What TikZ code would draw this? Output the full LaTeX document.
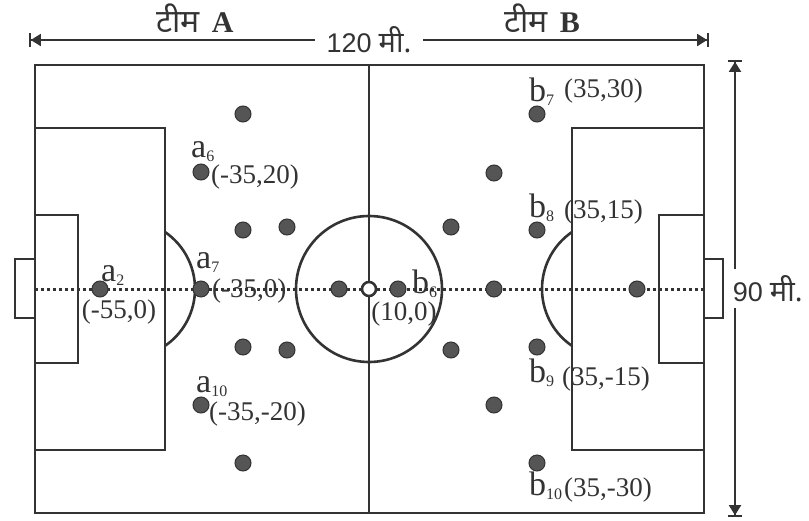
\documentclass[tikz,border=0pt]{standalone}
\usepackage{fontspec}
\setmainfont{Liberation Serif}
\newfontfamily\hindifont[Script=Devanagari]{Noto Sans}
\newfontfamily\arialfont{Liberation Sans}
\usetikzlibrary{arrows.meta,positioning}
\definecolor{FldLine}{HTML}{333333}
\definecolor{FldDot}{HTML}{555555}
\newcommand{\plsub}[1]{\raisebox{-4pt}{\fontsize{16}{16}\selectfont #1}}
\newcommand{\mtr}{\hspace{7pt}{\hindifont\fontsize{29}{29}\selectfont मी.}}

\begin{document}
\begin{tikzpicture}[
    x=1pt, y=-1pt,
    fld/.style={draw=FldLine, line width=2.6pt},
    mid/.style={draw=FldLine, line width=3pt, dash pattern=on 3pt off 3pt},
    player/.style={circle, fill=FldDot, draw=FldLine, line width=1pt, minimum size=16pt, inner sep=0pt},
    spot/.style={circle, fill=white, draw=FldLine, line width=2.6pt, minimum size=14pt, inner sep=0pt},
    pname/.style={font=\fontsize{34}{34}\selectfont, text=FldLine, anchor=base west, inner sep=0pt},
    pcoord/.style={font=\fontsize{27}{27}\selectfont, text=FldLine, anchor=west, inner sep=0pt},
    dim/.style={draw=FldLine, line width=1.8pt, {Bar[width=14pt,line width=1.8pt]Triangle[length=10pt,width=12pt]}-{Triangle[length=10pt,width=12pt]Bar[width=14pt,line width=1.8pt]}},
    dimtxt/.style={font=\arialfont\fontsize{27}{27}\selectfont, text=FldLine, fill=white},
    team/.style={font=\hindifont\fontsize{32}{32}\selectfont, text=FldLine},
  ]
    \useasboundingbox (0,0) rectangle (809,520);

    % ---- मैदान ----
    \draw[fld] (35,65) rectangle (704,513);
    \draw[fld] (369,65) -- (369,513);
    \draw[mid] (35,289) -- (704,289);
    \draw[fld] (369,289) circle[radius=73pt];
    % left half
    \draw[fld] (35,128) rectangle (165,450);
    \draw[fld] (35,215) rectangle (78,363);
    \draw[fld] (15,259) rectangle (35,318);
    \draw[fld] (165,232) arc[start angle=55.6, end angle=-55.6, radius=69pt];
    % right half
    \draw[fld] (572,128) rectangle (704,450);
    \draw[fld] (659,215) rectangle (704,363);
    \draw[fld] (704,259) rectangle (723,318);
    \draw[fld] (572,232) arc[start angle=124.4, end angle=235.6, radius=69pt];

    \node[spot] (cspot) at (369,289) {};

    % ---- टीम A ----
    \node[player] (a1) at (243,114) {};
    \node[player] (a6) at (201,172) {};
    \node[player] (a3) at (243,230) {};
    \node[player] (a4) at (287,227) {};
    \node[player] (a2) at (100,289) {};
    \node[player] (a7) at (201,289) {};
    \node[player] (a5) at (339,289) {};
    \node[player] (a8) at (243,347) {};
    \node[player] (a9) at (287,350) {};
    \node[player] (a10) at (201,405) {};
    \node[player] (a11) at (243,463) {};

    % ---- टीम B ----
    \node[player] (b6) at (398,289) {};
    \node[player] (b4) at (451,227) {};
    \node[player] (b2) at (494,173) {};
    \node[player] (b7) at (537,114) {};
    \node[player] (b8) at (537,230) {};
    \node[player] (b1) at (494,289) {};
    \node[player] (b11) at (637,289) {};
    \node[player] (b5) at (451,350) {};
    \node[player] (b9) at (537,347) {};
    \node[player] (b3) at (494,405) {};
    \node[player] (b10) at (537,463) {};

    % ---- नाम ----
    \node[pname] (a2n) at (101,281) {a\plsub{2}};
    \node[pcoord, anchor=center] (a2c) at (119,312) {(-55,0)};
    \node[pname] (a7n) at (196,268) {a\plsub{7}};
    \node[pcoord] (a7c) at (212,291) {(-35,0)};
    \node[pname] (a6n) at (191,157) {a\plsub{6}};
    \node[pcoord] (a6c) at (211,177) {(-35,20)};
    \node[pname] (a10n) at (196,392) {a\plsub{10}};
    \node[pcoord] (a10c) at (209,414) {(-35,-20)};
    \node[pname] (b7n) at (529,101) {b\plsub{7}};
    \node[pcoord] (b7c) at (564,91) {(35,30)};
    \node[pname] (b8n) at (529,217) {b\plsub{8}};
    \node[pcoord] (b8c) at (564,212) {(35,15)};
    \node[pname] (b9n) at (529,382) {b\plsub{9}};
    \node[pcoord] (b9c) at (562,379) {(35,-15)};
    \node[pname] (b10n) at (529,495) {b\plsub{10}};
    \node[pcoord] (b10c) at (564,490) {(35,-30)};
    \node[pname] (b6n) at (412,293) {b\plsub{6}};
    \node[pcoord, anchor=center] (b6c) at (404,314) {(10,0)};

    % ---- माप ----
    \node[team] (teamA) at (195,18) {टीम\hspace{12pt}{\rmfamily\bfseries\fontsize{30}{30}\selectfont A}};
    \node[team] (teamB) at (542,18) {टीम\hspace{12pt}{\rmfamily\bfseries\fontsize{30}{30}\selectfont B}};
    \coordinate (wl) at (29,40);
    \coordinate (wr) at (709,40);
    \draw[dim] (wl) -- node[dimtxt, inner xsep=12pt] {120\mtr} (wr);
    \coordinate (ht) at (735,60);
    \coordinate (hb) at (735,517);
    \draw[dim] (ht) -- node[dimtxt, anchor=west, xshift=-6pt, inner xsep=3pt, inner ysep=6pt] {90\mtr} (hb);
  \end{tikzpicture}
\end{document}
